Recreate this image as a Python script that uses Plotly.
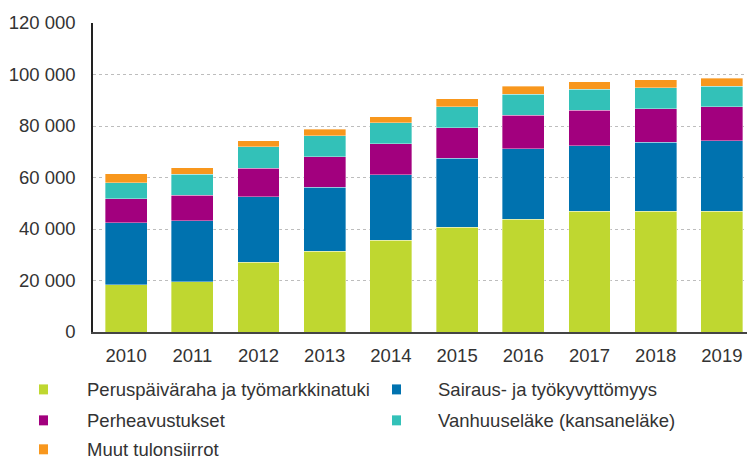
import plotly.graph_objects as go

years = ["2010", "2011", "2012", "2013", "2014", "2015", "2016", "2017", "2018", "2019"]

series_names = [
    "Peruspäiväraha ja työmarkkinatuki",
    "Sairaus- ja työkyvyttömyys",
    "Perheavustukset",
    "Vanhuuseläke (kansaneläke)",
    "Muut tulonsiirrot",
]

perus = [18300, 19500, 27000, 31400, 35650, 40700, 43800, 46900, 46900, 46900]
sairaus = [24200, 23700, 25500, 24850, 25500, 26700, 27350, 25500, 26800, 27450]
perhe = [9300, 9950, 11100, 11800, 11900, 11900, 13050, 13700, 12950, 13100]
vanhuus = [6200, 8050, 8300, 8150, 8150, 8150, 8150, 8150, 8150, 8000]
muut = [3400, 2600, 2450, 2450, 2350, 3100, 3100, 3000, 3100, 3100]

y_ticks = [0, 20000, 40000, 60000, 80000, 100000, 120000]

colors = ["#BFD730", "#0072AF", "#A2007E", "#33C1B8", "#F8971D"]
values = [perus, sairaus, perhe, vanhuus, muut]

FONT = "Liberation Sans, Arial, sans-serif"
TXT = "#333333"

fig = go.Figure()
for name, vals, col in zip(series_names, values, colors):
    fig.add_trace(go.Bar(
        x=years, y=vals, name=name,
        marker=dict(color=col, line=dict(width=0.6, color="rgba(255,255,255,0.6)")),
        showlegend=False,
    ))

OFF = 8  # page body margin
W, H = 755 - OFF, 461 - OFF
ml, mr, mt, mb = 93 - OFF, 0, 23 - OFF, 128.5
pw, ph = W - ml - mr, H - mt - mb

def px_to_paper(px, py):
    fx, fy = px - OFF, py - OFF
    return (fx - ml) / pw, (H - mb - fy) / ph

# custom legend layout (two columns, three rows)
legend_pos = [(39, 86, 390), (392, 437, 390), (39, 86, 421), (392, 437, 421), (39, 86, 450)]
shapes = []
annotations = []
for (mx, tx, cy), name, col in zip(legend_pos, series_names, colors):
    x0, y0 = px_to_paper(mx, cy + 5)
    x1, y1 = px_to_paper(mx + 9, cy - 5)
    shapes.append(dict(type="rect", xref="paper", yref="paper", x0=x0, x1=x1, y0=y0, y1=y1,
                       fillcolor=col, line=dict(width=0)))
    ax, ay = px_to_paper(tx, cy)
    annotations.append(dict(xref="paper", yref="paper", x=ax, y=ay, xanchor="left", yanchor="middle",
                            text=name, showarrow=False, borderpad=0,
                            font=dict(family=FONT, size=18.5, color=TXT)))

fig.update_layout(
    barmode="stack",
    bargap=0.366,
    width=W, height=H,
    margin=dict(l=ml, r=mr, t=mt, b=mb),
    plot_bgcolor="white", paper_bgcolor="white",
    separators=", ",
    font=dict(family=FONT, size=18.5, color=TXT),
    shapes=shapes,
    annotations=annotations,
)
fig.update_yaxes(
    range=[0, 120000], tickvals=y_ticks, tickformat=",d",
    showgrid=True, gridcolor="#BDBDBD", gridwidth=1, griddash="dot",
    showline=True, linecolor="#222222", linewidth=1.5,
    ticks="", ticklabelstandoff=12, zeroline=False,
)
fig.update_xaxes(
    showline=True, linecolor="#444444", linewidth=1.5,
    ticks="", ticklabelstandoff=6,
)

fig.write_html("out.html")
